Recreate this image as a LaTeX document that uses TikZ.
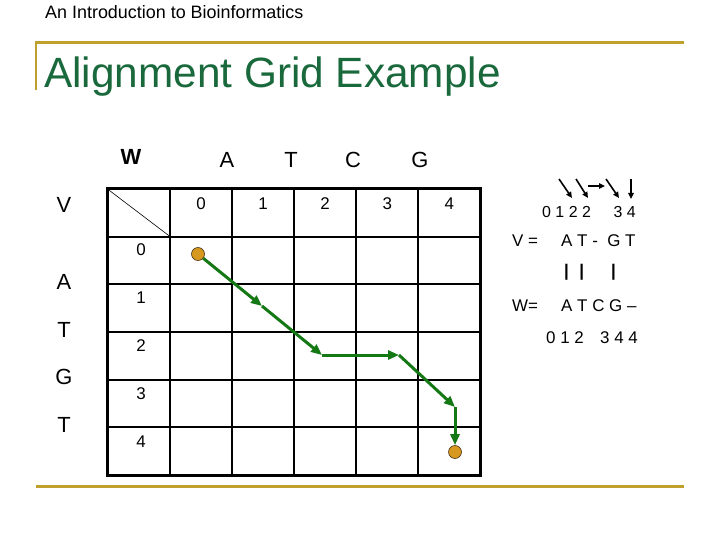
\documentclass[tikz,border=0pt]{standalone}
\usepackage{fontspec}
\setmainfont{Liberation Sans}
\usetikzlibrary{arrows.meta}
\definecolor{titlegreen}{RGB}{25,105,60}
\definecolor{rulegold}{RGB}{191,160,45}
\definecolor{pathgreen}{RGB}{20,120,20}
\definecolor{dotgold}{RGB}{214,152,30}
\tikzset{
	seqlabel/.style={font=\fontsize{22}{22}\selectfont},
	gridnum/.style={font=\fontsize{17}{17}\selectfont},
	alnline/.style={anchor=base west,inner sep=0pt,font=\fontsize{17}{17}\selectfont},
	pathstep/.style={pathgreen,line width=3bp,-{Triangle[length=11bp,width=9bp]}},
	enddot/.style={circle,draw=black!60!brown,fill=dotgold,inner sep=0pt,minimum size=13bp,line width=0.6bp},
	tinyarrow/.style={line width=1.6bp,-{Triangle[length=6bp,width=5.5bp]}},
}
\begin{document}
\begin{tikzpicture}[x=1bp,y=-1bp]
	%					\draw[help lines, color=black, step=10bp,ultra thin](0,0)grid(720,540);
	\useasboundingbox (0,0) rectangle (720,540);
	
	\draw [rulegold,line width=3bp](35,42.5)--(684,42.5);
	\draw [rulegold,line width=2.5bp](36,42)--(36,90);
	\draw [rulegold,line width=3bp](36,486)--(684,486);
	
	\node (course) at(45,19)[anchor=base west,inner sep=0pt,font=\fontsize{18}{18}\selectfont]{An Introduction to Bioinformatics};
	\node (title) at(44,88)[anchor=base west,inner sep=0pt,text=titlegreen,font=\fontsize{42.5}{42.5}\selectfont]{Alignment Grid Example};
	
	% grid
	\foreach \i in {0,...,6}{
		\draw [line width=2bp](107.5+62.1*\i,189)--(107.5+62.1*\i,475);
		\draw [line width=2bp](107.5,189+47.67*\i)--(480,189+47.67*\i);
	}
	\draw [line width=3bp](107.5,189) rectangle (480,475);
	\draw [line width=0.6bp](107.5,189)--(170,236.5);
	
	\node (w) at(131,157)[seqlabel]{\textbf{W}};
	\node (v) at(64,205)[seqlabel]{V};
	\node (wa) at(227,160)[seqlabel]{A};
	\node (wt) at(291,160)[seqlabel]{T};
	\node (wc) at(353,160)[seqlabel]{C};
	\node (wg) at(420,160)[seqlabel]{G};
	\node (va) at(64,282)[seqlabel]{A};
	\node (vt) at(64,330)[seqlabel]{T};
	\node (vg) at(64,377)[seqlabel]{G};
	\node (vt2) at(64,425)[seqlabel]{T};
	
	\foreach \j in {0,...,4}{
		\node (col\j) at(201+62.1*\j,204)[gridnum]{\j};
		\node (row\j) at(141,250+47.8*\j)[gridnum]{\j};
	}
	
	% path through the grid
	\node (start) at(198,254)[enddot]{};
	\node (end) at(455,452)[enddot]{};
	\coordinate (p1) at(262,306);
	\coordinate (p2) at(322,355);
	\coordinate (p3) at(399,355);
	\coordinate (p4) at(455,407);
	\draw [pathstep](start)--(p1);
	\draw [pathstep](p1)--(p2);
	\draw [pathstep](p2)--(p3);
	\draw [pathstep](p3)--(p4);
	\draw [pathstep](p4)--(end);
	
	% alignment
	\draw [tinyarrow](559,179)--(572,198);
	\draw [tinyarrow](576,179)--(588,198);
	\draw [tinyarrow](588,186)--(605,186);
	\draw [tinyarrow](606,179)--(619,198);
	\draw [tinyarrow](631,179)--(631,199);
	
	\node (topidx) at(542,218)[alnline,font=\fontsize{16}{16}\selectfont]{0 1 2 2\hspace{22.7bp}3 4};
	\node (vlabel) at(512,247)[alnline]{V =};
	\node (vrow) at(561,247)[alnline]{A T - \ G T};
	\node (match) at(564,277)[alnline,font=\fontsize{17}{17}\bfseries]{|\hspace{10.5bp}|\hspace{27bp}|};
	\node (wlabel) at(512,311)[alnline]{W=};
	\node (wrow) at(561,311)[alnline]{A T C G –};
	\node (botidx) at(546,343)[alnline]{0 1 2\hspace{16.3bp}3 4 4};
	
\end{tikzpicture}
\end{document}
